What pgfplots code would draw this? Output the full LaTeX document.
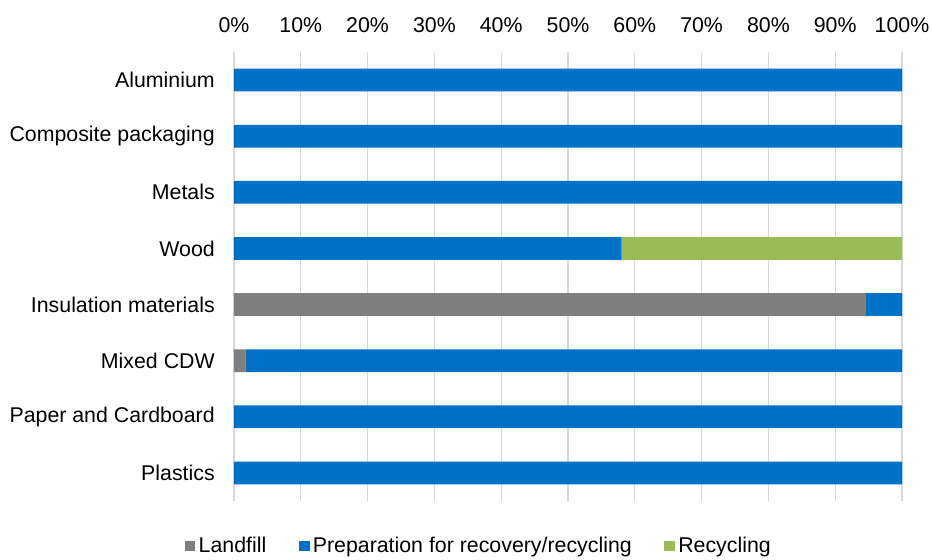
\documentclass[border=0pt]{standalone}
\usepackage{fontspec}
\setmainfont{Liberation Sans}
\usepackage{pgfplots}
\pgfplotsset{compat=1.18}
\definecolor{cLand}{HTML}{7F7F7F}
\definecolor{cPrep}{HTML}{0072C6}
\definecolor{cRec}{HTML}{9BBB59}
\definecolor{cGrid}{HTML}{D9D9D9}
\newcommand{\fs}{\fontsize{16}{19}\selectfont}
\begin{document}
\begin{tikzpicture}
\begin{axis}[
  name=a,
  scale only axis,
  width=501pt, height=336.75pt,
  xbar stacked,
  bar width=17pt,
  xmin=0, xmax=100,
  ymin=-0.5, ymax=7.5,
  y dir=reverse,
  axis line style={draw=none},
  major tick length=0pt,
  xmajorgrids,
  grid style={cGrid, line width=0.9pt},
  xtick={0,10,...,100},
  xticklabels={0\%,10\%,20\%,30\%,40\%,50\%,60\%,70\%,80\%,90\%,100\%},
  xticklabel pos=upper,
  xticklabel shift=14pt,
  x tick label style={font=\fs, inner sep=0pt, anchor=south},
  ytick={0,...,7},
  yticklabels={Aluminium,Composite packaging,Metals,Wood,Insulation materials,Mixed CDW,Paper and Cardboard,Plastics},
  yticklabel shift=14.25pt,
  y tick label style={font=\fs, inner sep=0pt, anchor=east},
  legend columns=3,
  legend style={at={(0.3675,-0.1)}, anchor=center, draw=none, fill=none,
    font=\fs, inner sep=0pt, column sep=0pt,
    nodes={inner xsep=2.5pt, inner ysep=1pt},
    /tikz/every even column/.append style={column sep=22pt}},
  legend cell align=left,
  legend image code/.code={\fill[#1,draw=none] (0pt,-3.9pt) rectangle (7.9pt,3.9pt);},
]
\addplot[fill=cLand, draw=none] coordinates {(0,0) (0,1) (0,2) (0,3) (94.6,4) (1.7,5) (0,6) (0,7)};
\addplot[fill=cPrep, draw=none] coordinates {(100,0) (100,1) (100,2) (58,3) (5.4,4) (98.3,5) (100,6) (100,7)};
\addplot[fill=cRec, draw=none] coordinates {(0,0) (0,1) (0,2) (42,3) (0,4) (0,5) (0,6) (0,7)};
\legend{Landfill,Preparation for recovery/recycling,Recycling}
\end{axis}
\pgfresetboundingbox
\path[use as bounding box] ([shift={(-175.5pt,-44.25pt)}]a.south west) rectangle ++(699pt,420pt);
\end{tikzpicture}
\end{document}
